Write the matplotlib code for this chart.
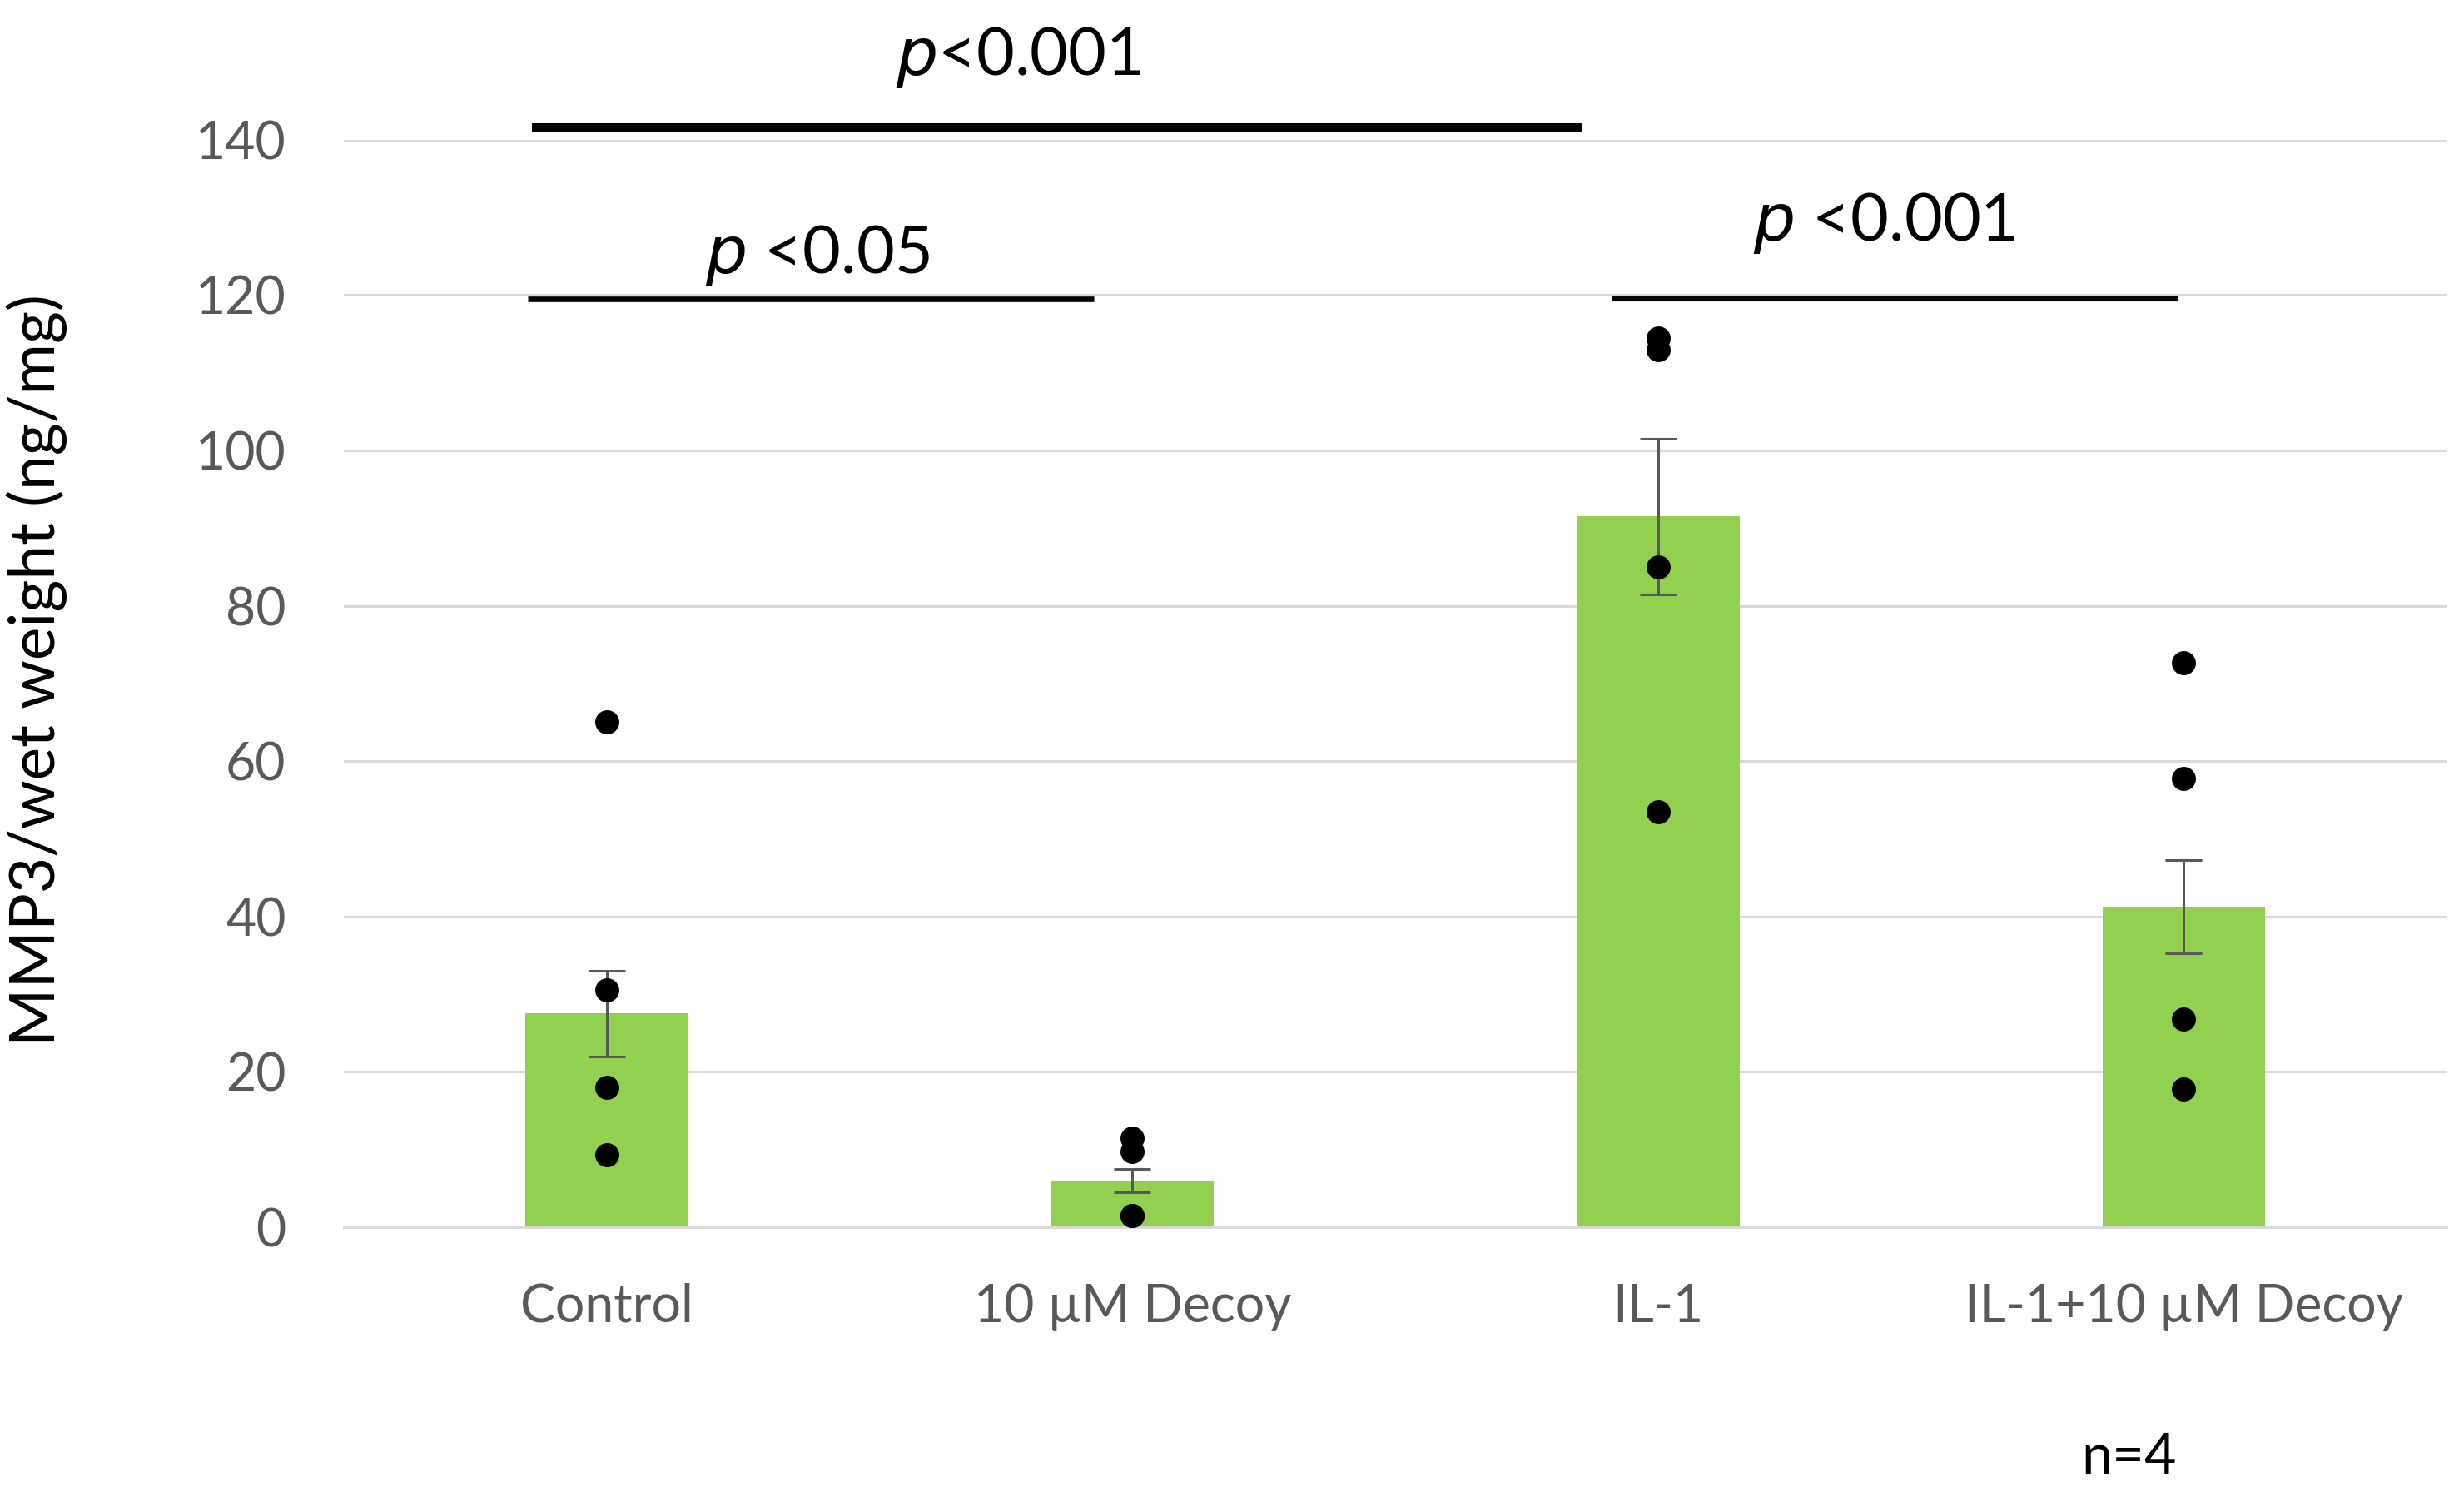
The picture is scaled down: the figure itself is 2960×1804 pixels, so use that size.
import matplotlib
matplotlib.use("Agg")
import matplotlib.pyplot as plt
import numpy as np

plt.rcParams['font.family'] = ['Lato', 'DejaVu Sans']

# data
groups = ['Control', '10 µM Decoy', 'IL-1', 'IL-1+10 µM Decoy']
means = [27.5, 6.0, 91.5, 41.3]
sems = [5.5, 1.5, 10.0, 6.0]
points = [
    [65.0, 30.5, 18.0, 9.3],
    [11.5, 9.7, 1.5, 1.5],
    [114.5, 113.0, 85.0, 53.5],
    [72.7, 57.8, 26.8, 17.8],
]

# significance brackets: (x start, x end, y, thickness, label, label x, label y)
sig_lines = [
    (-0.142, 1.856, 141.6, 3.6, r'$\mathit{p}$<0.001', 0.783, 148.3),
    (-0.150, 0.927, 119.5, 2.4, r'$\mathit{p}$ <0.05', 0.40, 122.8),
    (1.912, 2.990, 119.5, 2.2, r'$\mathit{p}$ <0.001', 2.43, 127.0),
]

BAR_COLOR = '#92d050'
GRID_COLOR = '#d9d9d9'
TEXT_GRAY = '#595959'


def draw_chart():
    fig = plt.figure(figsize=(14.8, 9.02), dpi=200)
    ax = fig.add_axes([0.1395, 0.183, 0.8535, 0.724])

    x = np.arange(len(groups))
    ax.bar(x, means, width=0.31, color=BAR_COLOR, zorder=2)
    ax.errorbar(x, means, yerr=sems, fmt='none', ecolor=TEXT_GRAY,
                elinewidth=1.1, capsize=8, capthick=1.1, zorder=3)

    for i, vals in enumerate(points):
        ax.plot([x[i]] * len(vals), vals, 'o', color='black',
                markersize=9.4, zorder=4, clip_on=False)

    ax.set_xlim(-0.5, len(groups) - 0.5)
    ax.set_ylim(0, 140)
    ax.set_yticks(np.arange(0, 141, 20))
    ax.yaxis.grid(True, color=GRID_COLOR, linewidth=1.1, zorder=0)
    ax.set_axisbelow(True)

    for side in ['top', 'right', 'left']:
        ax.spines[side].set_visible(False)
    ax.spines['bottom'].set_color(GRID_COLOR)
    ax.spines['bottom'].set_linewidth(1.1)

    ax.set_xticks(x)
    ax.set_xticklabels(groups)
    ax.tick_params(axis='both', length=0, labelsize=22.5, labelcolor=TEXT_GRAY)
    ax.tick_params(axis='x', pad=24)
    ax.tick_params(axis='y', pad=25)

    for x0, x1, y, lw, label, tx, ty in sig_lines:
        ax.plot([x0, x1], [y, y], color='black', linewidth=lw,
                solid_capstyle='butt', clip_on=False, zorder=5)
        ax.text(tx, ty, label, ha='center', va='baseline', fontsize=28.5,
                color='black')

    fig.text(0.015, 0.554, 'MMP3/wet weight (ng/mg)', rotation=90,
             ha='center', va='center', fontsize=26.9, color='black')
    fig.text(2558 / 2960, 1 - 1770 / 1804, 'n=4', ha='center', va='baseline',
             fontsize=24, color='black')

    fig.savefig('out.png', dpi=200)
    plt.close(fig)


if __name__ == "__main__":
    draw_chart()
